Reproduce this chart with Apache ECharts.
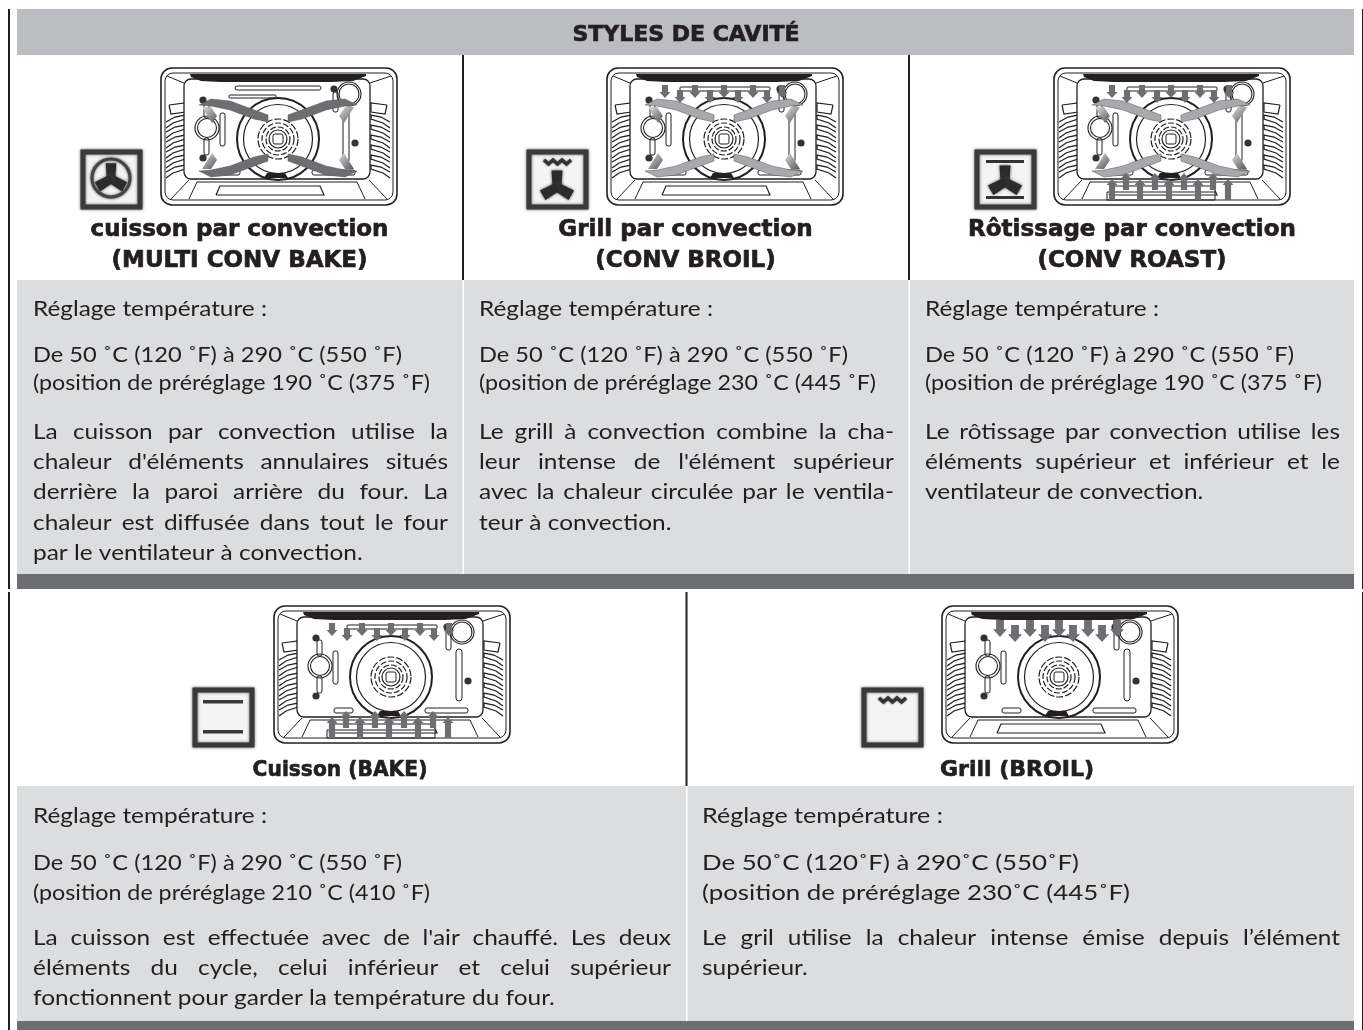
<!DOCTYPE html>
<html>
<head>
<meta charset="utf-8">
<title>Styles de cavité</title>
<script src="https://cdn.jsdelivr.net/npm/echarts@6/dist/echarts.min.js"></script>
<style>
  html, body { margin: 0; padding: 0; background: #fff; }
  #main { width: 1363px; height: 1030px; }
</style>
</head>
<body>
<div id="main"></div>
<script>
// texts
const headerTitle = 'STYLES DE CAVITÉ';
const tempLabel = 'Réglage température :';
const topTitles = [
  ['cuisson par convection', '(MULTI CONV BAKE)'],
  ['Grill par convection', '(CONV BROIL)'],
  ['Rôtissage par convection', '(CONV ROAST)']
];
const bottomTitles = ['Cuisson (BAKE)', 'Grill (BROIL)'];
const tempRanges = [
  'De 50 ˚C (120 ˚F) à 290 ˚C (550 ˚F)',
  'De 50 ˚C (120 ˚F) à 290 ˚C (550 ˚F)',
  'De 50 ˚C (120 ˚F) à 290 ˚C (550 ˚F)',
  'De 50 ˚C (120 ˚F) à 290 ˚C (550 ˚F)',
  'De 50˚C (120˚F) à 290˚C (550˚F)'
];
const presets = [
  '(position de préréglage 190 ˚C (375 ˚F)',
  '(position de préréglage 230 ˚C (445 ˚F)',
  '(position de préréglage 190 ˚C (375 ˚F)',
  '(position de préréglage 210 ˚C (410 ˚F)',
  '(position de préréglage 230˚C (445˚F)'
];
const descriptions = [
  ['La cuisson par convection utilise la', "chaleur d'éléments annulaires situés", 'derrière la paroi arrière du four. La', 'chaleur est diffusée dans tout le four', 'par le ventilateur à convection.'],
  ['Le grill à convection combine la cha-', "leur intense de l'élément supérieur", 'avec la chaleur circulée par le ventila-', 'teur à convection.'],
  ['Le rôtissage par convection utilise les', 'éléments supérieur et inférieur et le', 'ventilateur de convection.'],
  ["La cuisson est effectuée avec de l'air chauffé. Les deux", 'éléments du cycle, celui inférieur et celui supérieur', 'fonctionnent pour garder la température du four.'],
  ['Le gril utilise la chaleur intense émise depuis l’élément', 'supérieur.']
];

// which parts each oven drawing shows
const ovenKinds = [
  { ribbons: '#6d6e71', top: 0, bottom: false, slots: 'bars' },
  { ribbons: '#a7a9ac', top: 1, bottom: false, slots: 'low' },
  { ribbons: '#a7a9ac', top: 1, bottom: true, slots: 'low' },
  { ribbons: null, top: 1, bottom: true, slots: 'low' },
  { ribbons: null, top: 2, bottom: false, slots: 'low' }
];
const iconKinds = ['fan', 'grillFan', 'roastFan', 'bake', 'broil'];

const INK = '#231f20';
const BODY_FONT = 'Lato';
const TITLE_FONT = '"DejaVu Sans"';
const BODY_SIZE = 22;
const BODY_STRETCH = 1.11; // the original face is wider than Lato
// measured widths of the three lines above each description
const labelWidths = [234, 234, 234, 234, 241];
const rangeWidths = [369, 369, 369, 369, 377];
const presetWidths = [397, 397, 397, 397, 428];

const measure = document.createElement('canvas').getContext('2d');
const els = [];

function rect(x, y, w, h, fill) {
  return { type: 'rect', shape: { x, y, width: w, height: h }, style: { fill }, silent: true };
}
function label(text, x, y, size, align, weight, family) {
  return {
    type: 'text', x, y, silent: true,
    style: {
      text, fill: INK, textAlign: align, textVerticalAlign: 'bottom',
      font: `${weight || 'normal'} ${size}px ${family || BODY_FONT}`
    }
  };
}
function heavy(text, x, y, size, stretch) {
  const t = label(text, x, y, size, 'center', 'bold', TITLE_FONT);
  t.style.stroke = INK;
  t.style.lineWidth = 0.7;
  if (stretch) t.scaleX = stretch;
  return t;
}
function textWidth(text) {
  measure.font = `${BODY_SIZE}px ${BODY_FONT}`;
  return measure.measureText(text).width;
}
function bodyWord(text, x, y, stretch) {
  const t = label(text, x, y, BODY_SIZE);
  t.scaleX = stretch;
  return t;
}
// whole line squeezed or stretched to the width it has in the original
function fittedLine(text, x, baseline, width) {
  els.push(bodyWord(text, x, baseline + 6, width / textWidth(text)));
}
// lines sit on a baseline, textVerticalAlign bottom is close enough with this shift
function bodyLine(text, x, baseline, width) {
  const y = baseline + 6;
  if (!width) { els.push(bodyWord(text, x, y, BODY_STRETCH)); return; }
  const words = text.split(' ');
  const wordW = w => textWidth(w) * BODY_STRETCH;
  const total = words.reduce((s, w) => s + wordW(w), 0);
  const gap = (width - total) / (words.length - 1);
  let cx = x;
  words.forEach(w => {
    els.push(bodyWord(w, cx, y, BODY_STRETCH));
    cx += wordW(w) + gap;
  });
}
function bodyBlock(i, x, width, ys) {
  fittedLine(tempLabel, x, ys[0], labelWidths[i]);
  fittedLine(tempRanges[i], x, ys[1], rangeWidths[i]);
  fittedLine(presets[i], x, ys[2], presetWidths[i]);
  const lines = descriptions[i];
  lines.forEach((l, k) => {
    const y = ys[3] + k * 30.2;
    // last line of a paragraph stays flush left
    bodyLine(l, x, y, k < lines.length - 1 ? width : 0);
  });
}

function line(pts, w, color) {
  return { type: 'polyline', shape: { points: pts }, style: { stroke: color || INK, lineWidth: w || 1, fill: null }, silent: true };
}
function ring(cx, cy, r, w, dash) {
  const st = { stroke: INK, lineWidth: w || 1, fill: null };
  if (dash) st.lineDash = dash;
  return { type: 'circle', shape: { cx, cy, r }, style: st, silent: true };
}
function poly(pts, fill) {
  return { type: 'polygon', shape: { points: pts }, style: { fill }, silent: true };
}
function box(x, y, w, h, r, lw) {
  return { type: 'rect', shape: { x, y, width: w, height: h, r }, style: { stroke: INK, lineWidth: lw || 1, fill: '#fff' }, silent: true };
}
function arrow(cx, tip, len, w, dir, color) {
  // dir 1 = pointing down, -1 = up
  const head = w * 0.55, shaft = w * 0.28, back = tip - dir * len, neck = tip - dir * head;
  return poly([[cx, tip], [cx + w / 2, neck], [cx + shaft, neck], [cx + shaft, back], [cx - shaft, back], [cx - shaft, neck], [cx - w / 2, neck]], color);
}

const RIBBON = [[38, 37], [50, 31], [69, 33], [88, 40], [107, 47], [107, 54], [93, 51], [69, 42], [50, 38]];
const DIAMOND = [[41, 39], [50, 39], [56, 48], [51, 55]];
const TOP_X = [58, 73, 88, 103, 117, 131, 146, 160, 175];
const LOW_X = [58, 72, 86, 101, 115, 130, 144, 159, 174];

function oven(kind, ox, oy) {
  const c = [];
  const mx = x => 234 - x;
  const my = y => 140 - y;
  c.push({ type: 'rect', shape: { x: 0, y: 0, width: 236, height: 137, r: 11 }, style: { stroke: INK, lineWidth: 1.6, fill: '#fff' }, silent: true });
  c.push({ type: 'rect', shape: { x: 4, y: 5, width: 228, height: 127, r: 8 }, style: { stroke: INK, lineWidth: 1, fill: 'none' }, silent: true });
  // perspective lines
  c.push(line([[6, 8], [23, 15]]), line([[230, 8], [209, 15]]));
  c.push(line([[10, 131], [28, 112]]), line([[226, 131], [208, 112]]));
  c.push(line([[28, 131], [36, 114], [196, 114], [204, 131]]));
  // side fins
  [0, 1].forEach(side => {
    const fx = x => side ? 234 - x : x;
    c.push(line([[8, 37], [24, 35], [24, 44], [10, 46], [8, 37]].map(p => [fx(p[0]), p[1]]), 1.2));
    for (let i = 0; i < 6; i++) {
      const y = 52 + i * 10;
      c.push(line([[5, y + 2], [14, y - 3], [24, y - 5], [24, y - 1], [12, y + 3], [5, y + 8]].map(p => [fx(p[0]), p[1]]), 1.3));
    }
  });
  // back wall
  c.push({ type: 'rect', shape: { x: 23, y: 11, width: 186, height: 100, r: 7 }, style: { stroke: INK, lineWidth: 1.3, fill: '#fff' }, silent: true });
  // upper element
  c.push(poly([[29, 6], [205, 6], [205, 8], [192, 13], [170, 14], [60, 14], [40, 13], [30, 9]], INK));
  // slots
  c.push(box(59, 45, 5, 33, 2), box(182, 43, 6, 52, 3));
  c.push(box(43, 34, 5, 16, 2), box(43, 70, 5, 17, 2));
  c.push(box(172, 24, 5, 20, 2));
  if (kind.slots === 'bars') {
    c.push(box(74, 18, 86, 4, 2), box(68, 27, 47, 3, 1));
  }
  c.push(box(60, 102, 19, 5, 2), box(151, 102, 43, 5, 2));
  // drip slot
  c.push(poly([[55, 127], [163, 127], [159, 118], [59, 118]], '#fff'));
  c.push(line([[55, 127], [163, 127], [159, 118], [59, 118], [55, 127]], 1.2));
  // side heaters and bolts
  c.push(ring(46, 60, 12, 1.1), ring(46, 60, 9.5, 1.1), ring(188, 26, 12, 1.1), ring(188, 26, 10, 1.1));
  [[42, 32], [42, 90], [173, 21], [194, 75]].forEach(p => {
    c.push({ type: 'circle', shape: { cx: p[0], cy: p[1], r: 3.6 }, style: { fill: '#333' }, silent: true });
  });
  // fan
  c.push({ type: 'circle', shape: { cx: 117, cy: 71, r: 41 }, style: { fill: '#fff', stroke: INK, lineWidth: 2 }, silent: true });
  c.push(ring(117, 71, 34.5, 1.2));
  c.push(ring(117, 71, 20, 1.2, [7, 2]), ring(117, 71, 16, 1.2, [6, 2]), ring(117, 71, 12, 1.2, [6, 2]), ring(117, 71, 9, 1.2));
  c.push(box(112, 66, 10, 10, 2));
  c.push(poly([[106, 105], [124, 105], [127, 110], [103, 110]], INK));
  // convection ribbons
  if (kind.ribbons) {
    const grad = new echarts.graphic.LinearGradient(0, 0, 1, 1, [
      { offset: 0, color: '#dddddd' }, { offset: 1, color: '#555658' }
    ]);
    [[false, false], [true, false], [false, true], [true, true]].forEach(m => {
      const f = p => [m[0] ? mx(p[0]) : p[0], m[1] ? my(p[1]) : p[1]];
      c.push({ type: 'polygon', shape: { points: RIBBON.map(f) }, style: { fill: kind.ribbons, stroke: '#555', lineWidth: 0.5 }, silent: true });
      c.push(poly(DIAMOND.map(f), grad));
    });
  }
  // element arrows
  if (kind.top) {
    const big = kind.top === 2;
    if (!big) c.push(box(73, 19, 90, 4, 1));
    TOP_X.forEach((x, i) => {
      const tip = (big ? 31 : 30) + (i % 2 ? 5 : 0);
      c.push(arrow(x, tip, big ? 17 : 13, big ? 14 : 11, 1, '#6d6e71'));
    });
  }
  if (kind.bottom) {
    c.push(line([[53, 124], [161, 124], [161, 132], [53, 132], [53, 124]]));
    LOW_X.forEach((x, i) => {
      const tip = i % 2 ? 105 : 111;
      c.push(arrow(x, tip, i % 2 ? 17 : 21, 11, -1, '#6d6e71'));
    });
  }
  return { type: 'group', x: ox, y: oy, silent: true, children: c };
}

function fanBlades(cx, cy, s) {
  const blade = a => {
    const cos = Math.cos(a), sin = Math.sin(a);
    const rot = p => [cx + (p[0] * cos - p[1] * sin) * s, cy + (p[0] * sin + p[1] * cos) * s];
    return { type: 'polygon', shape: { points: [[-4, 1], [-5, -15], [5, -15], [4, 1]].map(rot) }, style: { fill: '#2b2b2b', shadowBlur: 3, shadowColor: '#444' }, silent: true };
  };
  return [blade(0), blade(Math.PI * 2 / 3), blade(-Math.PI * 2 / 3)];
}

function icon(kind, x, y) {
  const c = [];
  const blur = { shadowBlur: 3, shadowColor: '#555' };
  c.push({ type: 'rect', shape: { x: 2, y: 2, width: 57, height: 55 }, style: Object.assign({ fill: '#f4f4f4', stroke: '#3a3a3a', lineWidth: 5 }, blur), silent: true });
  if (kind === 'fan') {
    c.push({ type: 'circle', shape: { cx: 30, cy: 28, r: 19 }, style: Object.assign({ stroke: '#444', lineWidth: 3, fill: '#f4f4f4' }, blur), silent: true });
    c.push(...fanBlades(30, 29, 1.05));
  }
  if (kind === 'grillFan' || kind === 'broil') {
    const pts = [];
    for (let i = 0; i < 7; i++) pts.push([17 + i * 4.5, i % 2 ? 14 : 10]);
    const w = line(pts, 3.4, '#333');
    w.style.shadowBlur = 2;
    w.style.shadowColor = '#555';
    c.push(w);
  }
  if (kind === 'grillFan') c.push(...fanBlades(30, 37, 1.1));
  if (kind === 'roastFan') {
    c.push(rect(11, 10, 38, 3, '#333'), rect(11, 46, 38, 3, '#333'));
    c.push(...fanBlades(30, 32, 1.1));
  }
  if (kind === 'bake') {
    c.push(rect(10, 12, 40, 3.5, '#3a3a3a'), rect(10, 42, 40, 3.5, '#3a3a3a'));
  }
  return { type: 'group', x, y, silent: true, children: c };
}

// page frame
els.push(rect(8, 9, 2, 580, INK), rect(8, 592, 2, 438, INK));
els.push(rect(1362, 9, 2, 580, INK), rect(1362, 592, 2, 438, INK));
els.push(rect(17, 9, 1337, 46, '#bcbdc0'));
els.push(heavy(headerTitle, 686, 46, 22));
// first row
els.push(rect(17, 280, 1337, 294, '#dcddde'));
els.push(rect(17, 574, 1337, 15, '#6d6e71'));
[462, 908].forEach(x => {
  els.push(rect(x, 55, 2, 225, INK));
  els.push(rect(x + 0.5, 280, 1.5, 294, '#fff'));
});
// second row
els.push(rect(17, 786, 1337, 235, '#dcddde'));
els.push(rect(17, 1021, 1337, 9, '#6d6e71'));
els.push(rect(685.5, 592, 2, 194, INK));
els.push(rect(686, 786, 1.5, 235, '#fff'));

const ovenPos = [[161, 68], [607, 68], [1054, 68], [274, 606], [942, 606]];
const iconPos = [[81, 150], [527, 150], [975, 150], [193, 688], [862, 688]];
ovenKinds.forEach((k, i) => els.push(oven(k, ovenPos[i][0], ovenPos[i][1])));
iconKinds.forEach((k, i) => els.push(icon(k, iconPos[i][0], iconPos[i][1])));

const titleCx = [239.5, 685.5, 1132];
topTitles.forEach((t, i) => {
  els.push(heavy(t[0], titleCx[i], 242, 23));
  els.push(heavy(t[1], titleCx[i], 273, 23));
});
els.push(heavy(bottomTitles[0], 340, 781, 22, 0.92));
els.push(heavy(bottomTitles[1], 1017, 781, 22));

const rowOne = [314, 360, 388, 437];
const rowTwo = [821, 868, 898, 943];
bodyBlock(0, 33, 415, rowOne);
bodyBlock(1, 479, 415, rowOne);
bodyBlock(2, 925, 415, rowOne);
bodyBlock(3, 33, 638, rowTwo);
bodyBlock(4, 702, 638, rowTwo);

const chart = echarts.init(document.getElementById('main'));
chart.setOption({ animation: false, graphic: { elements: els } });
</script>
</body>
</html>
